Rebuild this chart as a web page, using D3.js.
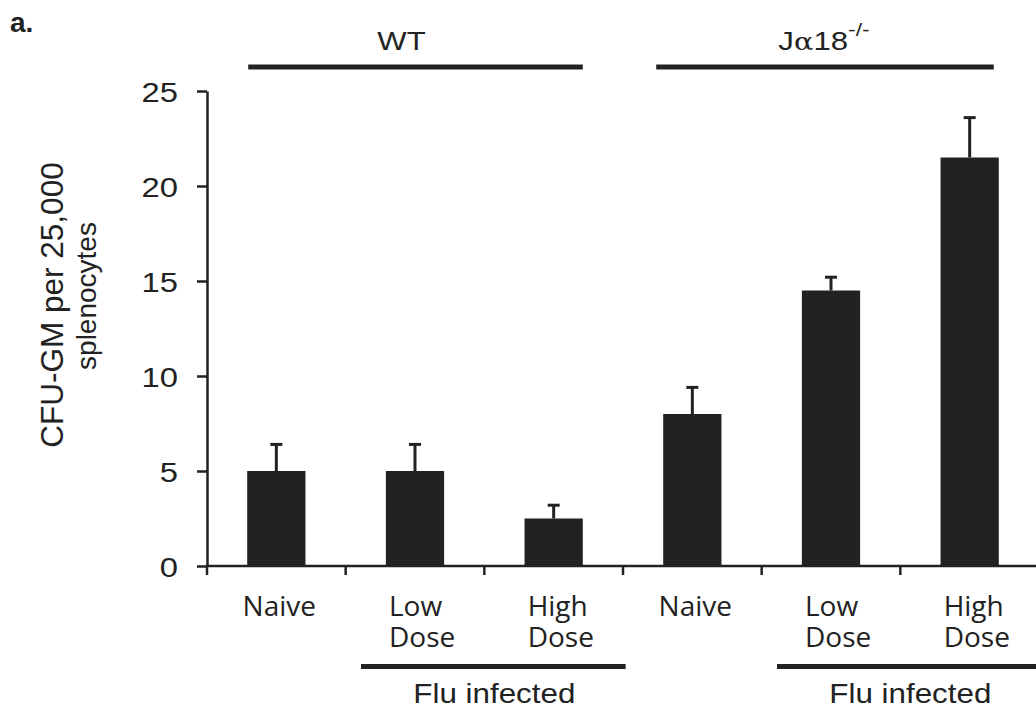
<!DOCTYPE html>
<html>
<head>
<meta charset="utf-8">
<script src="https://cdn.jsdelivr.net/npm/d3@7"></script>
<style>
  html, body { margin: 0; padding: 0; background: #ffffff; }
  svg { display: block; }
</style>
</head>
<body>
<svg id="chart" width="1036" height="709"></svg>
<script>
// ---- data ----
const categories = ["Naive", "Low Dose", "High Dose", "Naive", "Low Dose", "High Dose"];
const groupOfBar = ["WT", "WT", "WT", "Ja18", "Ja18", "Ja18"];
const meanValues = [5, 5, 2.5, 8, 14.5, 21.5];
const errorValues = [1.4, 1.4, 0.7, 1.4, 0.7, 2.1];
const yTickValues = [0, 5, 10, 15, 20, 25];
const yLabelLines = ["CFU-GM per 25,000", "splenocytes"];
const groupLabels = ["WT", "Jα18"];
const infectedLabel = "Flu infected";

// ---- setup ----
const svg = d3.select("#chart");
const ink = "#222222";
const sans = "'Liberation Sans', Arial, Helvetica, sans-serif";
const myriad = "'Open Sans', 'Noto Sans', sans-serif";
const STRETCH = 1.17;

const idx = d3.range(categories.length);
const x = d3.scaleBand().domain(idx).range([207, 1039]).paddingInner(0.58).paddingOuter(0.29);
const y = d3.scaleLinear().domain([0, 25]).range([566, 91]);
const bw = x.bandwidth();
const step = x.step();
const cx = i => x(i) + bw / 2;

function sText(g, px, py, str, size, anchor, sx, family, weight) {
  return g.append("text")
    .attr("transform", `translate(${px},${py}) scale(${sx},1)`)
    .attr("text-anchor", anchor)
    .attr("font-family", family)
    .attr("font-size", size)
    .attr("font-weight", weight || "normal")
    .attr("fill", ink)
    .text(str);
}

// panel letter
sText(svg, 10, 32, "a.", 28, "start", 1.0, sans, "bold");

// ---- y axis ----
const yAxis = d3.axisLeft(y).tickValues(yTickValues).tickSize(10).tickSizeOuter(0).tickFormat(d3.format("d"));
const gy = svg.append("g").attr("transform", "translate(207,0)").call(yAxis);
gy.select(".domain").attr("stroke", ink).attr("stroke-width", 2.5);
gy.selectAll(".tick line").attr("stroke", ink).attr("stroke-width", 2.5);
gy.selectAll(".tick text")
  .attr("x", null).attr("dy", null)
  .attr("transform", `translate(-29,10) scale(${STRETCH},1)`)
  .attr("text-anchor", "end")
  .attr("font-family", sans)
  .attr("font-size", 28)
  .attr("fill", ink);

// y label
const yl = svg.append("g");
yl.append("text")
  .attr("transform", "translate(63,305) rotate(-90)")
  .attr("text-anchor", "middle").attr("font-family", sans).attr("font-size", 31.5).attr("fill", ink)
  .text(yLabelLines[0]);
yl.append("text")
  .attr("transform", "translate(96,296) rotate(-90)")
  .attr("text-anchor", "middle").attr("font-family", sans).attr("font-size", 28).attr("fill", ink)
  .text(yLabelLines[1]);

// ---- bars ----
svg.append("g").selectAll("rect").data(idx).join("rect")
  .attr("x", i => x(i))
  .attr("width", bw)
  .attr("y", i => y(meanValues[i]))
  .attr("height", i => y(0) - y(meanValues[i]))
  .attr("fill", ink);

// error bars
const eg = svg.append("g").attr("stroke", ink).attr("stroke-width", 3);
eg.selectAll("line.stem").data(idx).join("line").attr("class", "stem")
  .attr("x1", cx).attr("x2", cx)
  .attr("y1", i => y(meanValues[i]))
  .attr("y2", i => y(meanValues[i] + errorValues[i]));
eg.selectAll("line.cap").data(idx).join("line").attr("class", "cap")
  .attr("x1", i => cx(i) - 6).attr("x2", i => cx(i) + 6)
  .attr("y1", i => y(meanValues[i] + errorValues[i]))
  .attr("y2", i => y(meanValues[i] + errorValues[i]));

// ---- x axis ----
const gx = svg.append("g").attr("stroke", ink).attr("stroke-width", 2.5);
const boundaries = idx.map(i => x(i) - step * x.paddingInner() / 2).concat([x(idx.length - 1) + bw + step * x.paddingInner() / 2]);
gx.append("line").attr("x1", boundaries[0] - 1.25).attr("x2", boundaries[boundaries.length - 1]).attr("y1", y(0)).attr("y2", y(0));
gx.selectAll("line.t").data(boundaries).join("line").attr("class", "t")
  .attr("x1", d => d).attr("x2", d => d).attr("y1", y(0)).attr("y2", y(0) + 9);

// category labels
const lg = svg.append("g");
idx.forEach(i => {
  const words = categories[i].split(" ");
  if (words.length === 1) {
    lg.append("text").attr("x", cx(i) + 3).attr("y", 616).attr("text-anchor", "middle")
      .attr("font-family", myriad).attr("font-size", 28).attr("fill", ink).text(words[0]);
  } else {
    const t = lg.append("text").attr("y", 616).attr("text-anchor", "start")
      .attr("font-family", myriad).attr("font-size", 28).attr("fill", ink);
    words.forEach((w, k) => {
      t.append("tspan").attr("x", cx(i) - 26).attr("dy", k === 0 ? 0 : 31).text(w);
    });
  }
});

// ---- group lines (top) ----
const topG = svg.append("g").attr("stroke", ink).attr("stroke-width", 5);
const wtIdx = idx.filter(i => groupOfBar[i] === "WT");
const jaIdx = idx.filter(i => groupOfBar[i] === "Ja18");
const wtL = x(wtIdx[0]) + 1, wtR = x(wtIdx[wtIdx.length - 1]) + bw;
const jaL = x(jaIdx[0]) - 7, jaR = x(jaIdx[jaIdx.length - 1]) + bw - 5;
topG.append("line").attr("x1", wtL).attr("x2", wtR).attr("y1", 67).attr("y2", 67);
topG.append("line").attr("x1", jaL).attr("x2", jaR).attr("y1", 67).attr("y2", 67);

sText(svg, (wtL + wtR) / 2 - 14, 50, groupLabels[0], 25.5, "middle", 1.22, sans);

const jt = svg.append("text")
  .attr("transform", `translate(${(jaL + jaR) / 2 - 1},50) scale(1.2,1)`)
  .attr("text-anchor", "middle").attr("font-family", sans).attr("font-size", 26).attr("fill", ink);
jt.append("tspan").text("J");
jt.append("tspan").attr("font-family", "'DejaVu Serif', 'Liberation Serif', serif").attr("font-size", 24).text("α");
jt.append("tspan").text("18");
jt.append("tspan").attr("font-size", 19).attr("dy", -14).text("-/-");

// ---- infected lines (bottom) ----
const botG = svg.append("g").attr("stroke", ink).attr("stroke-width", 5);
[[1, 2], [4, 5]].forEach(([a, b]) => {
  const l = cx(a) - 54, r = cx(b) + 72;
  botG.append("line").attr("x1", l).attr("x2", r).attr("y1", 666.5).attr("y2", 666.5);
  sText(svg, (l + r) / 2 + 1, 703, infectedLabel, 28, "middle", 1.12, sans);
});
</script>
</body>
</html>
